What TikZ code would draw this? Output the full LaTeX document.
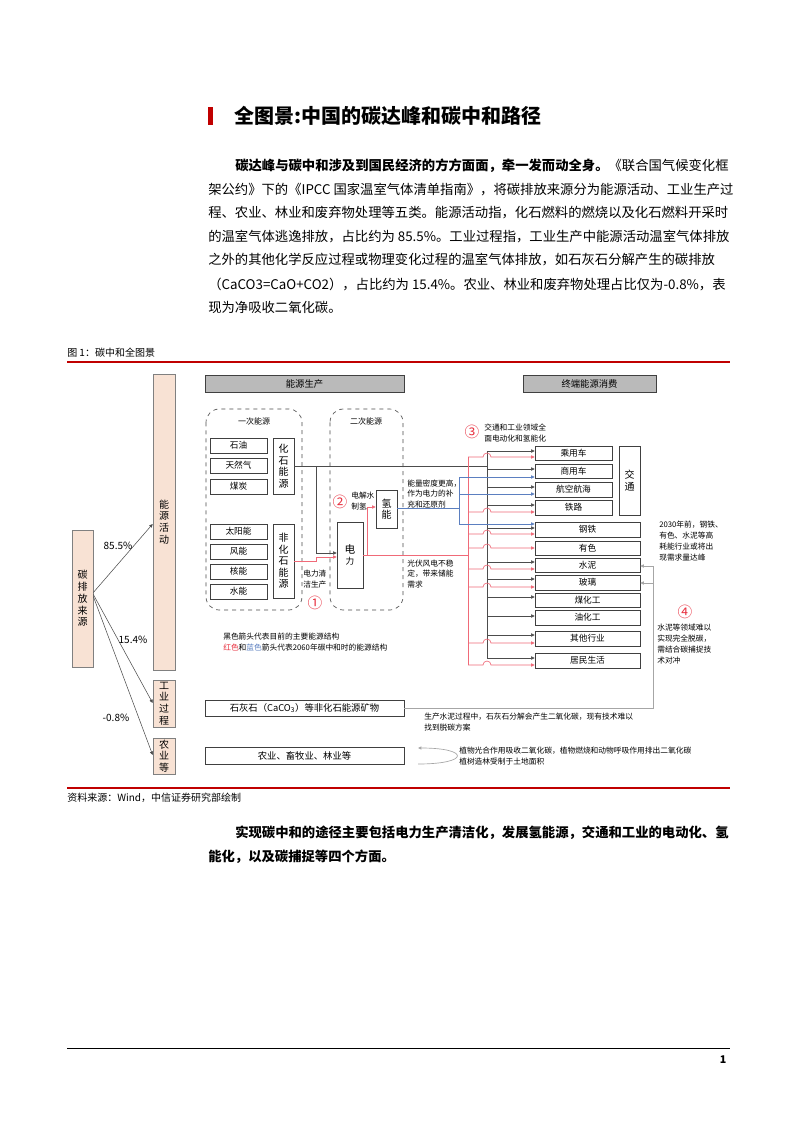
\documentclass[tikz,border=0pt]{standalone}
\usepackage{fontspec}
\setmainfont{Noto Sans CJK SC}
\usetikzlibrary{arrows.meta}
\definecolor{tred}{HTML}{C00000}
\definecolor{lred}{HTML}{F06A78}
\definecolor{nred}{HTML}{E8303F}
\definecolor{lblue}{HTML}{5B7FC0}
\definecolor{peach}{HTML}{F8E2D4}
\newcommand\fs[1]{\fontsize{#1}{8}\selectfont}
\newcommand\B[7]{\node[#6, minimum width={(#4-#2)*0.75pt}, minimum height={(#5-#3)*0.75pt}] (#1) at ({(#2+#4)/2},{(#3+#5)/2}) {#7};}
\tikzset{
 pbox/.style={draw=black!75, fill=white, line width=0.5pt, inner sep=0pt, align=center, font=\fontsize{6.5}{8}\selectfont},
 vbox/.style={pbox, font=\fontsize{7.5}{8.6}\selectfont},
 pch/.style={draw=black!50, fill=peach, line width=0.5pt, inner sep=0pt, align=center, font=\fontsize{7.5}{8.8}\selectfont},
 hdr/.style={draw=black!75, fill=black!27, line width=0.6pt, inner sep=0pt, font=\fontsize{7}{8}\selectfont},
 dbox/.style={draw=black!70, dashed, rounded corners=10pt, line width=0.5pt},
 blk/.style={draw=black!70, line width=0.4pt},
 rl/.style={draw=lred, line width=0.5pt},
 bl/.style={draw=lblue, line width=0.5pt},
 gl/.style={draw=black!35, line width=0.5pt},
 tip/.style={-{Triangle[length=2.6pt,width=2.4pt]}},
 para/.style={anchor=west, inner sep=0pt, font=\fontsize{10}{12}\selectfont},
 small/.style={anchor=west, inner sep=0pt, align=left, font=\fontsize{5.8}{8.2}\selectfont},
 circ/.style={inner sep=0pt, text=nred, font=\fontsize{11}{12}\selectfont},
}
\begin{document}
\begin{tikzpicture}[x=0.75pt,y=-0.75pt]
\useasboundingbox[fill=white] (0,0) rectangle (793,1122);
% title
\fill[tred] (208,107) rectangle (213,125);
\node[anchor=west,inner sep=0pt,font=\bfseries\fontsize{15}{18}\selectfont] (title) at (234,116) {全图景:中国的碳达峰和碳中和路径};
% paragraph
\node[para] (p1) at (235,166) {\textbf{碳达峰与碳中和涉及到国民经济的方方面面，牵一发而动全身。}《联合国气候变化框};
\node[para] (p2) at (208,190) {架公约》下的《IPCC 国家温室气体清单指南》，将碳排放来源分为能源活动、工业生产过};
\node[para] (p3) at (208,213) {程、农业、林业和废弃物处理等五类。能源活动指，化石燃料的燃烧以及化石燃料开采时};
\node[para] (p4) at (208,237) {的温室气体逃逸排放，占比约为 85.5\%。工业过程指，工业生产中能源活动温室气体排放};
\node[para] (p5) at (208,260) {之外的其他化学反应过程或物理变化过程的温室气体排放，如石灰石分解产生的碳排放};
\node[para] (p6) at (208,284) {（CaCO3=CaO+CO2），占比约为 15.4\%。农业、林业和废弃物处理占比仅为-0.8\%，表};
\node[para] (p7) at (208,307) {现为净吸收二氧化碳。};
% caption
\node[anchor=west,inner sep=0pt,font=\fontsize{7.5}{9}\selectfont] (cap) at (67,353) {图 1：碳中和全图景};
\draw[tred, line width=0.8pt] (67,362) -- (730,362);
\draw[tred, line width=0.8pt] (67,788) -- (730,788);
\node[anchor=west,inner sep=0pt,font=\fontsize{7.5}{9}\selectfont] (src2) at (67,798) {资料来源：Wind，中信证券研究部绘制};
% bottom paragraph
\node[para, font=\bfseries\fontsize{10}{12}\selectfont] (q1) at (235,833) {实现碳中和的途径主要包括电力生产清洁化，发展氢能源，交通和工业的电动化、氢};
\node[para, font=\bfseries\fontsize{10}{12}\selectfont] (q2) at (208,857) {能化，以及碳捕捉等四个方面。};
\draw[black, line width=0.6pt] (67,1048) -- (730,1048);
\node[inner sep=0pt,font=\bfseries\fontsize{8}{9}\selectfont] (pg) at (723,1060) {1};

% ---------- diagram ----------
\B{src}{72}{530}{93}{667}{pch}{碳\\排\\放\\来\\源}
\B{ener}{153}{374}{175}{670}{pch}{}
\node[inner sep=0pt, align=center, font=\fontsize{7.5}{8.8}\selectfont] (enerl) at (164,522) {能\\源\\活\\动};
\B{ind}{153}{680}{175}{727}{pch}{工\\业\\过\\程}
\B{agr}{153}{738}{175}{774}{pch}{农\\业\\等}
\coordinate (c1) at (153,524);
\coordinate (c2) at (153,703);
\coordinate (c3) at (153,755);
\draw[blk,tip] (src.east) ++(0,-6) -- (c1 -| ener.west);
\draw[blk,tip] (src.east) ++(0,-4) -- (c2 -| ind.west);
\draw[blk,tip] (src.east) ++(0,-2) -- (c3 -| agr.west);
\node[inner sep=0pt,font=\fontsize{7.5}{9}\selectfont] (l1) at (118,546) {85.5\%};
\node[inner sep=0pt,font=\fontsize{7.5}{9}\selectfont] (l2) at (133,640) {15.4\%};
\node[inner sep=0pt,font=\fontsize{7.5}{9}\selectfont] (l3) at (116,718) {-0.8\%};

\B{h1}{205}{375}{404}{392}{hdr}{能源生产}
\B{h2}{523}{375}{656}{392}{hdr}{终端能源消费}
\draw[dbox] (206,409) rectangle (302,610);
\draw[dbox] (330,409) rectangle (403,610);
\node[inner sep=0pt,font=\fs{6}] (yc) at (254,421) {一次能源};
\node[inner sep=0pt,font=\fs{6}] (ec) at (366,421) {二次能源};

\B{oil}{210}{438}{267}{453}{pbox}{石油}
\B{gas}{210}{458}{267}{473}{pbox}{天然气}
\B{coal}{210}{479}{267}{494}{pbox}{煤炭}
\B{fos}{273}{438}{294}{494}{vbox}{化\\石\\能\\源}
\B{sol}{210}{524}{267}{539}{pbox}{太阳能}
\B{wind}{210}{544}{267}{559}{pbox}{风能}
\B{nuc}{210}{564}{267}{579}{pbox}{核能}
\B{hyd}{210}{584}{267}{599}{pbox}{水能}
\B{nfos}{273}{524}{294}{598}{vbox}{非\\化\\石\\能\\源}
\B{elec}{337}{522}{363}{588}{pbox}{\fontsize{8}{10}\selectfont 电\\力}
\B{hy}{376}{490}{397}{528}{vbox}{氢\\能}
\node[small] (t2) at (351,501) {电解水\\制氢};
\node[circ] (n2) at (340,502) {②};
\node[small] (t1) at (303,579) {电力清\\洁生产};
\node[circ] (n1) at (315,603) {①};

% right boxes
\B{b1}{535}{446}{612}{460}{pbox}{乘用车}
\B{b2}{535}{464}{612}{478}{pbox}{商用车}
\B{b3}{535}{482}{612}{497}{pbox}{航空航海}
\B{b4}{535}{500}{612}{515}{pbox}{铁路}
\B{tr}{619}{446}{640}{515}{vbox}{交\\通}
\B{b5}{535}{522}{640}{537}{pbox}{钢铁}
\B{b6}{535}{541}{640}{555}{pbox}{有色}
\B{b7}{535}{558}{640}{572}{pbox}{水泥}
\B{b8}{535}{575}{640}{590}{pbox}{玻璃}
\B{b9}{535}{593}{640}{607}{pbox}{煤化工}
\B{b10}{535}{610}{640}{625}{pbox}{油化工}
\B{b11}{535}{631}{640}{646}{pbox}{其他行业}
\B{b12}{535}{653}{640}{668}{pbox}{居民生活}

% black structure
\draw[blk] (fos.east) -- (487,466);
\draw[blk] (487,451) -- (487,658);
\draw[blk,tip] (316,466) -- (316,553) coordinate (e1) -- (e1 -| elec.west);
\foreach \y/\b in {451/b1,469/b2,487/b3,505/b4,528/b5,562/b7,579/b8,597/b9,616/b10,635/b11,658/b12}
  \draw[blk,tip] (487,\y) coordinate (tmp) -- (tmp -| \b.west);
% red structure
\draw[rl,tip] (nfos.east) -- (316,561) -- (316,557) coordinate (e2) -- (e2 -| elec.west);
\draw[rl] (elec.east) -- (468,555);
\draw[rl,tip] (367,555) -- (367,507) coordinate (e3) -- (e3 -| hy.west);
\draw[rl] (468,457) -- (468,665);
\foreach \y/\b in {457/b1,512/b4,534/b5,548/b6,569/b7,587/b8,643/b11,665/b12}
  \draw[rl,tip] (468,\y) coordinate (tmp) -- (483,\y) arc[start angle=180,end angle=0,radius=3pt] -- (tmp -| \b.west);
% blue structure
\draw[bl] (hy.east) ++(0,-1) -- (459,508);
\draw[bl] (459,477) -- (459,525);
\foreach \y/\b in {477/b2,494/b3,524/b5}
  \draw[bl,tip] (459,\y) coordinate (tmp) -- (tmp -| \b.west);

\node[circ] (n3) at (472,432) {③};
\node[small] (t3) at (484,433) {交通和工业领域全\\面电动化和氢能化};
\node[small] (t4) at (407,494) {能量密度更高，\\作为电力的补\\充和还原剂};
\node[small] (t5) at (407,574) {光伏风电不稳\\定，带来储能\\需求};
\node[small] (t6) at (659,541) {2030年前，钢铁、\\有色、水泥等高\\耗能行业或将出\\现需求量达峰};
\node[circ] (n4) at (685,612) {④};
\node[small] (t7) at (657,644) {水泥等领域难以\\实现完全脱碳，\\需结合碳捕捉技\\术对冲};

\node[small] (lg) at (223,642) {黑色箭头代表目前的主要能源结构\\\textcolor{nred}{红色}和\textcolor{lblue}{蓝色}箭头代表2060年碳中和时的能源结构};

\B{lime}{205}{700}{404}{716}{pbox}{\fontsize{7}{8}\selectfont 石灰石（CaCO\textsubscript{3}）等非化石能源矿物}
\B{farm}{205}{747}{404}{764}{pbox}{\fontsize{7}{8}\selectfont 农业、畜牧业、林业等}
\draw[gl] (lime.east) -- (653,708) -- (653,566) coordinate (g1);
\draw[gl,tip] (g1) -- (g1 -| b7.east);
\draw[gl,tip] (653,583) coordinate (g2) -- (g2 -| b8.east);
\node[small] (t8) at (424,722) {生产水泥过程中，石灰石分解会产生二氧化碳，现有技术难以\\找到脱碳方案};
\coordinate (f1) at (418,764);
\draw[gl,tip] (f1) .. controls (470,764) and (470,748) .. (418,748);
\node[small] (t9) at (459,756) {植物光合作用吸收二氧化碳，植物燃烧和动物呼吸作用排出二氧化碳\\植树造林受制于土地面积};
\end{tikzpicture}
\end{document}
